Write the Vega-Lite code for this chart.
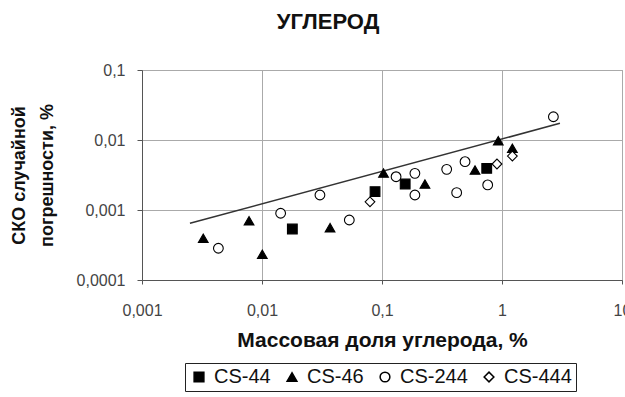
{
  "$schema": "https://vega.github.io/schema/vega-lite/v6.json",
  "width": 480,
  "height": 210,
  "autosize": "none",
  "padding": {"left": 142, "top": 70, "right": 3, "bottom": 117},
  "background": "white",
  "title": {"text": "УГЛЕРОД", "anchor": "middle", "dx": -54, "offset": 28, "font": "Liberation Sans", "fontSize": 22, "fontWeight": "bold", "color": "#111"},
  "config": {
    "font": "Liberation Sans",
    "view": {"stroke": "#999", "strokeWidth": 1},
    "axis": {"gridColor": "#aaa", "gridWidth": 1, "domainColor": "#555", "tickColor": "#555", "labelColor": "#444", "labelFontSize": 16, "titleColor": "#111", "titleFontWeight": "bold"},
    "legend": {"orient": "none", "legendX": 43, "legendY": 293, "direction": "horizontal", "strokeColor": "#222", "strokeWidth": 1, "padding": 4, "labelFontSize": 20, "labelColor": "#111", "labelOffset": 5, "columnPadding": 11}
  },
  "datasets": {
    "pts": [
      {"x": 0.0179, "y": 0.000535, "s": "CS-44"},
      {"x": 0.0875, "y": 0.00183, "s": "CS-44"},
      {"x": 0.156, "y": 0.00235, "s": "CS-44"},
      {"x": 0.746, "y": 0.00394, "s": "CS-44"},
      {"x": 0.00324, "y": 0.000394, "s": "CS-46"},
      {"x": 0.0078, "y": 0.000703, "s": "CS-46"},
      {"x": 0.01006, "y": 0.000233, "s": "CS-46"},
      {"x": 0.0369, "y": 0.000559, "s": "CS-46"},
      {"x": 0.103, "y": 0.00338, "s": "CS-46"},
      {"x": 0.228, "y": 0.00235, "s": "CS-46"},
      {"x": 0.596, "y": 0.00373, "s": "CS-46"},
      {"x": 0.931, "y": 0.00977, "s": "CS-46"},
      {"x": 1.22, "y": 0.0076, "s": "CS-46"},
      {"x": 0.00433, "y": 0.000284, "s": "CS-244"},
      {"x": 0.0143, "y": 0.000898, "s": "CS-244"},
      {"x": 0.0304, "y": 0.00164, "s": "CS-244"},
      {"x": 0.0534, "y": 0.00072, "s": "CS-244"},
      {"x": 0.131, "y": 0.00299, "s": "CS-244"},
      {"x": 0.188, "y": 0.00334, "s": "CS-244"},
      {"x": 0.188, "y": 0.00164, "s": "CS-244"},
      {"x": 0.346, "y": 0.00381, "s": "CS-244"},
      {"x": 0.419, "y": 0.00177, "s": "CS-244"},
      {"x": 0.492, "y": 0.0049, "s": "CS-244"},
      {"x": 0.76, "y": 0.00228, "s": "CS-244"},
      {"x": 2.68, "y": 0.0215, "s": "CS-244"},
      {"x": 0.0794, "y": 0.00131, "s": "CS-444"},
      {"x": 0.908, "y": 0.00454, "s": "CS-444"},
      {"x": 1.22, "y": 0.0059, "s": "CS-444"}
    ],
    "fit": [
      {"x": 0.00251, "y": 0.000646},
      {"x": 3.04, "y": 0.0173}
    ]
  },
  "layer": [
    {
      "data": {"name": "fit"},
      "mark": {"type": "line", "color": "#333", "strokeWidth": 1.5},
      "encoding": {
        "x": {"field": "x", "type": "quantitative"},
        "y": {"field": "y", "type": "quantitative"}
      }
    },
    {
      "data": {"name": "pts"},
      "mark": {"type": "point", "filled": true, "stroke": "#000", "strokeWidth": 1.1, "opacity": 1},
      "encoding": {
        "x": {
          "field": "x", "type": "quantitative",
          "scale": {"type": "log", "domain": [0.001, 10], "nice": false},
          "axis": {"values": [0.001, 0.01, 0.1, 1, 10], "format": "~g", "labelExpr": "replace(datum.label, '.', ',')", "tickSize": 4, "labelPadding": 18, "title": "Массовая доля углерода, %", "titleFontSize": 21, "titlePadding": 11, "labelFlush": false}
        },
        "y": {
          "field": "y", "type": "quantitative",
          "scale": {"type": "log", "domain": [0.0001, 0.1], "nice": false},
          "axis": {"values": [0.0001, 0.001, 0.01, 0.1], "format": "~g", "labelExpr": "replace(datum.label, '.', ',')", "tickSize": 5, "labelPadding": 12, "title": ["СКО случайной", "погрешности, %"], "titleFontSize": 18, "titlePadding": 20, "titleLineHeight": 28, "labelFlush": false}
        },
        "shape": {"field": "s", "type": "nominal", "scale": {"domain": ["CS-44", "CS-46", "CS-244", "CS-444"], "range": ["square", "triangle-up", "circle", "diamond"]}, "legend": {"title": null, "encode": {"symbols": {"update": {"stroke": {"value": "#000"}, "strokeWidth": {"value": 1.1}}}}}},
        "fill": {"field": "s", "type": "nominal", "scale": {"domain": ["CS-44", "CS-46", "CS-244", "CS-444"], "range": ["#000", "#000", "#fff", "#fff"]}, "legend": {"title": null, "encode": {"symbols": {"update": {"stroke": {"value": "#000"}, "strokeWidth": {"value": 1.1}}}}}},
        "size": {"field": "s", "type": "nominal", "scale": {"domain": ["CS-44", "CS-46", "CS-244", "CS-444"], "range": [95, 95, 85, 50]}, "legend": {"title": null, "encode": {"symbols": {"update": {"stroke": {"value": "#000"}, "strokeWidth": {"value": 1.1}}}}}}
      }
    }
  ],
  "encoding": {}
}
